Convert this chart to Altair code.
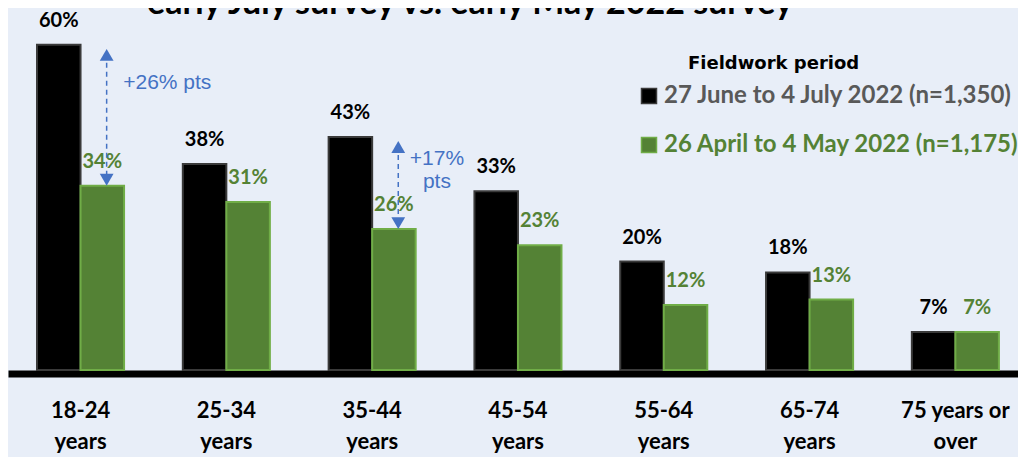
import altair as alt
import pandas as pd

categories = ["18-24 years", "25-34 years", "35-44 years", "45-54 years",
              "55-64 years", "65-74 years", "75 years or over"]
series = ["27 June to 4 July 2022 (n=1,350)", "26 April to 4 May 2022 (n=1,175)"]
july_values = [60, 38, 43, 33, 20, 18, 7]
may_values = [34, 31, 26, 23, 12, 13, 7]

fill_colors = ["#000000", "#548235"]
stroke_colors = ["#3a3a3a", "#70ad47"]
value_label_colors = ["#000000", "#548235"]
legend_label_colors = ["#595959", "#548235"]
blue = "#4472c4"
background = "#e8eef8"

ann_categories = ["18-24 years", "35-44 years"]
ann_from = [60, 43]
ann_to = [34, 26]
ann_texts = [["+26% pts"], ["+17%", "pts"]]

title_text = "early July survey vs. early May 2022 survey"
legend_title = "Fieldwork period"

rows = []
for s, vals in zip(series, [july_values, may_values]):
    for c, v in zip(categories, vals):
        rows.append({"age": c, "series": s, "value": v, "label": f"{v}%"})
df = pd.DataFrame(rows)

ann_df = pd.DataFrame({
    "age": ann_categories,
    "series": [series[1]] * len(ann_categories),
    "from": ann_from,
    "to": ann_to,
    "text": ann_texts,
})

x_axis = alt.Axis(
    title=None, domainColor="black", domainWidth=7, ticks=False, tickSize=0,
    labelAngle=0, labelFont="Lato", labelFontSize=22, labelFontWeight="bold",
    labelColor="black", labelPadding=44, labelLineHeight=31,
    labelBaseline="alphabetic", offset=3.5, grid=False, labelLimit=300,
    labelExpr="datum.label == '75 years or over' ? ['75 years or', 'over'] : split(datum.label, ' ')",
)
x_scale = alt.Scale(paddingInner=0.403, paddingOuter=0.165, align=0.603)
x_enc = alt.X("age:N", sort=categories, scale=x_scale, axis=x_axis)
x_arrow = alt.X("age:N", sort=categories, scale=x_scale, axis=x_axis, bandPosition=0.8)
xo_enc = alt.XOffset("series:N", sort=series,
                     scale=alt.Scale(paddingInner=0, paddingOuter=0))
y_scale = alt.Scale(domain=[0, 66.8], nice=False, zero=True)

legend = alt.Legend(
    title=None, orient="none", legendX=629, legendY=76, direction="vertical",
    symbolType="square", symbolSize=225, symbolStrokeWidth=1.5,
    labelFont="Lato", labelFontSize=24, labelFontWeight="bold",
    labelColor=alt.ExprRef(expr=f"datum.value == '{series[0]}' ? '{legend_label_colors[0]}' : '{legend_label_colors[1]}'"),
    labelLimit=600, labelOffset=3, rowPadding=25, padding=0, offset=0,
)

bars = alt.Chart(df).mark_bar(strokeWidth=2).encode(
    x=x_enc, xOffset=xo_enc,
    y=alt.Y("value:Q", scale=y_scale, axis=None),
    color=alt.Color("series:N", sort=series,
                    scale=alt.Scale(domain=series, range=fill_colors), legend=legend),
    stroke=alt.Stroke("series:N", sort=series,
                      scale=alt.Scale(domain=series, range=stroke_colors), legend=legend),
)

value_layers = []
for s, col in zip(series, value_label_colors):
    value_layers.append(
        alt.Chart(df).transform_filter(alt.datum.series == s).mark_text(
            font="Lato", fontSize=20, fontWeight="bold", baseline="alphabetic",
            dy=-18, color=col,
        ).encode(x=x_enc, xOffset=xo_enc,
                 y=alt.Y("value:Q", scale=y_scale, axis=None), text="label:N")
    )

rule = alt.Chart(ann_df).mark_rule(
    color=blue, strokeDash=[5, 4], strokeWidth=1.5, yOffset=9, y2Offset=-5
).encode(x=x_arrow, y=alt.Y("from:Q", scale=y_scale, axis=None), y2="to:Q")

head_up = alt.Chart(ann_df).mark_point(
    shape="triangle-up", filled=True, size=190, color=blue, opacity=1, yOffset=10,
).encode(x=x_arrow, y=alt.Y("from:Q", scale=y_scale, axis=None))

head_down = alt.Chart(ann_df).mark_point(
    shape="triangle-down", filled=True, size=190, color=blue, opacity=1, yOffset=-6,
).encode(x=x_arrow, y=alt.Y("to:Q", scale=y_scale, axis=None))

ann_text_1 = alt.Chart(ann_df.iloc[[0]]).mark_text(
    font="Liberation Sans", fontSize=21, color=blue, align="center",
    baseline="alphabetic", dx=65, dy=44,
).encode(x=x_enc, xOffset=xo_enc, y=alt.Y("from:Q", scale=y_scale, axis=None),
         text="text")

ann_text_2 = alt.Chart(ann_df.iloc[[1]]).mark_text(
    font="Liberation Sans", fontSize=21, color=blue, align="center",
    baseline="alphabetic", dx=43, dy=28, lineHeight=23,
).encode(x=x_enc, xOffset=xo_enc, y=alt.Y("from:Q", scale=y_scale, axis=None),
         text="text")

title_layer = alt.Chart(pd.DataFrame({"t": [title_text]})).mark_text(
    font="Lato", fontSize=34, fontWeight="bold", color="black",
    align="center", baseline="alphabetic",
).encode(text="t:N", x=alt.value(462), y=alt.value(6))

legend_title_layer = alt.Chart(pd.DataFrame({"t": [legend_title]})).mark_text(
    font="DejaVu Sans", fontSize=18, fontWeight="bold", color="black",
    align="left", baseline="alphabetic",
).encode(text="t:N", x=alt.value(680), y=alt.value(61))

chart = alt.layer(
    bars, *value_layers, rule, head_up, head_down, ann_text_1, ann_text_2,
    title_layer, legend_title_layer,
).properties(
    width=1010, height=362,
    padding={"left": 0, "top": 0, "right": 0, "bottom": 87},
    autosize=alt.AutoSizeParams(type="none"),
    background=background,
).configure_view(stroke=None)

chart.save("out.html", embed_options={"renderer": "svg", "actions": False})
